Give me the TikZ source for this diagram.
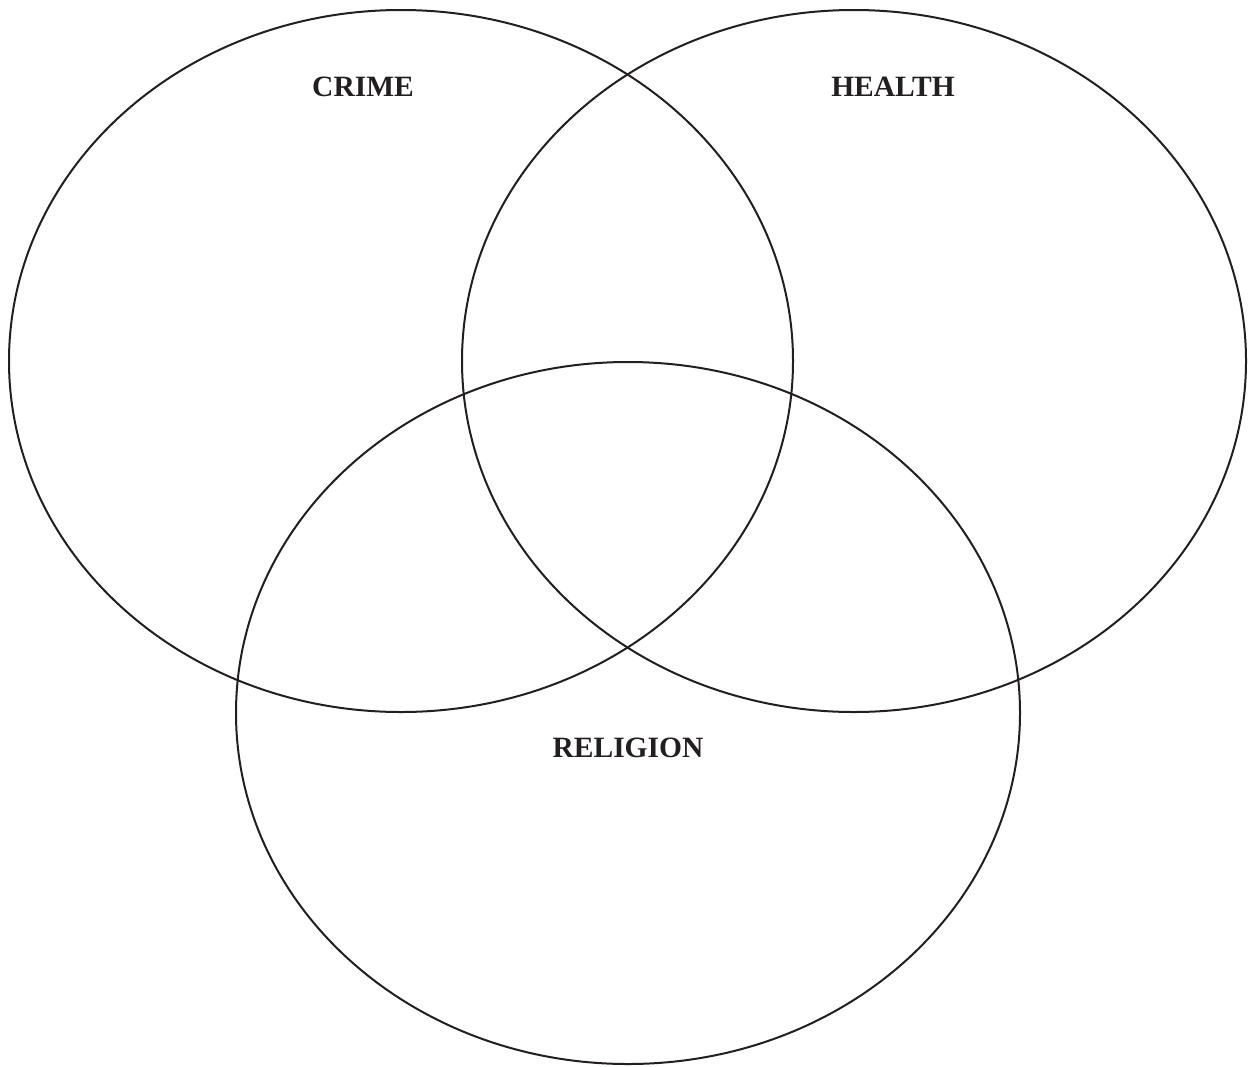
\documentclass[tikz,border=0pt]{standalone}
\usepackage{fontspec}
\setmainfont{Liberation Serif}
\definecolor{ink}{HTML}{231F20}
\begin{document}
\begin{tikzpicture}[x=1pt,y=-1pt,
  setring/.style={draw=ink,line width=2pt},
  setlabel/.style={text=ink,font=\fontsize{29.5}{31}\selectfont\bfseries,inner sep=0pt,anchor=base}]
\useasboundingbox (0,0) rectangle (1249,1066);
\draw[setring] (401,361) ellipse [x radius=392, y radius=351];
\draw[setring] (854,361) ellipse [x radius=392, y radius=351];
\draw[setring] (628,713) ellipse [x radius=392, y radius=351];
\node[setlabel] (crime) at (363,96) {CRIME};
\node[setlabel] (health) at (893,96) {HEALTH};
\node[setlabel] (religion) at (628,757) {RELIGION};
\end{tikzpicture}
\end{document}
